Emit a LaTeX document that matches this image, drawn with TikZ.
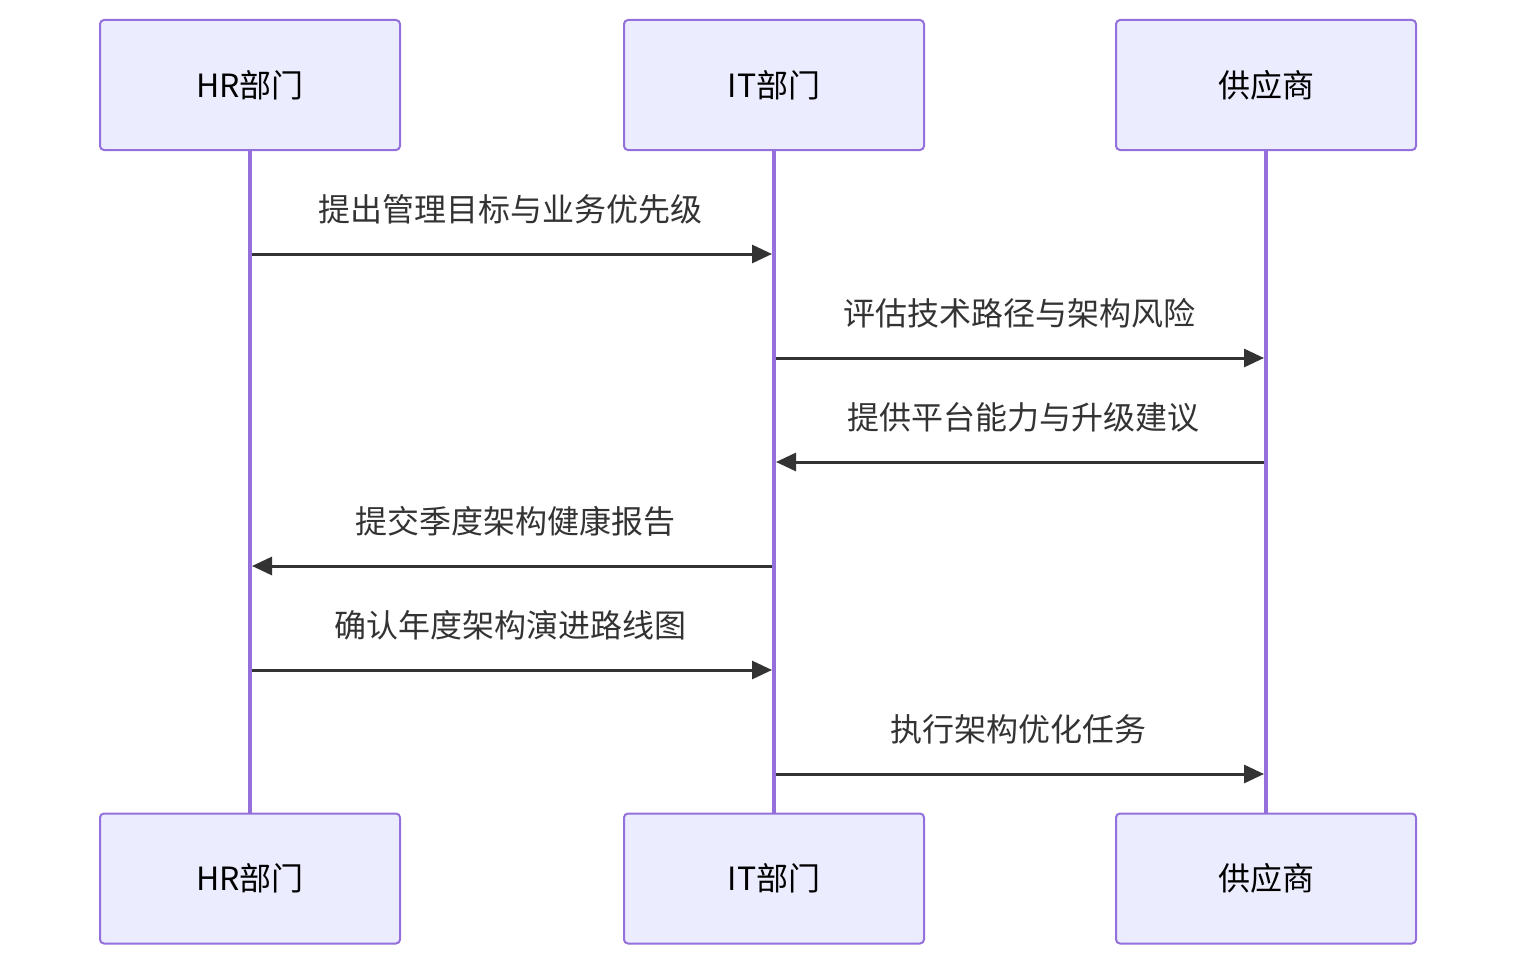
\documentclass[tikz,border=0pt]{standalone}
\usepackage{fontspec}
\setmainfont{Noto Sans CJK SC}
\usetikzlibrary{arrows.meta}
\definecolor{boxfill}{HTML}{ECECFF}
\definecolor{boxline}{HTML}{9370DB}
\definecolor{msg}{HTML}{333333}
\begin{document}
\begin{tikzpicture}[x=1pt,y=-1pt,
  actor/.style={draw=boxline,fill=boxfill,line width=2pt,rounded corners=4pt,minimum width=300pt,minimum height=130pt,inner sep=0pt,font=\fontsize{32}{36}\selectfont,text=black},
  life/.style={draw=boxline,line width=4pt},
  arr/.style={draw=msg,line width=3pt,-{Triangle[length=20pt,width=18pt]}},
  lbl/.style={font=\fontsize{32}{36}\selectfont,text=msg}]
\useasboundingbox (0,0) rectangle (1516,966);
\node[actor] (hrT) at (250,85) {\raisebox{-2pt}{HR部门}};
\node[actor] (itT) at (774,85) {\raisebox{-2pt}{IT部门}};
\node[actor] (spT) at (1266,85) {\raisebox{-2pt}{供应商}};
\node[actor] (hrB) at (250,878.5) {\raisebox{-2pt}{HR部门}};
\node[actor] (itB) at (774,878.5) {\raisebox{-2pt}{IT部门}};
\node[actor] (spB) at (1266,878.5) {\raisebox{-2pt}{供应商}};
\draw[life] (hrT.south) -- (hrB.north);
\draw[life] (itT.south) -- (itB.north);
\draw[life] (spT.south) -- (spB.north);
\foreach \y/\n in {254/1,358/2,462/3,566/4,670/5,774/6}{
  \coordinate (h\n) at (252,\y);
  \coordinate (iL\n) at (772,\y);
  \coordinate (iR\n) at (776,\y);
  \coordinate (s\n) at (1264,\y);
}
\draw[arr] (h1) -- (iL1);
\node[lbl] (l1) at (510,209) {提出管理目标与业务优先级};
\draw[arr] (iR2) -- (s2);
\node[lbl] (l2) at (1019,313) {评估技术路径与架构风险};
\draw[arr] (s3) -- (iR3);
\node[lbl] (l3) at (1023,417) {提供平台能力与升级建议};
\draw[arr] (iL4) -- (h4);
\node[lbl] (l4) at (515,521) {提交季度架构健康报告};
\draw[arr] (h5) -- (iL5);
\node[lbl] (l5) at (510,625) {确认年度架构演进路线图};
\draw[arr] (iR6) -- (s6);
\node[lbl] (l6) at (1018,729) {执行架构优化任务};
\end{tikzpicture}
\end{document}
